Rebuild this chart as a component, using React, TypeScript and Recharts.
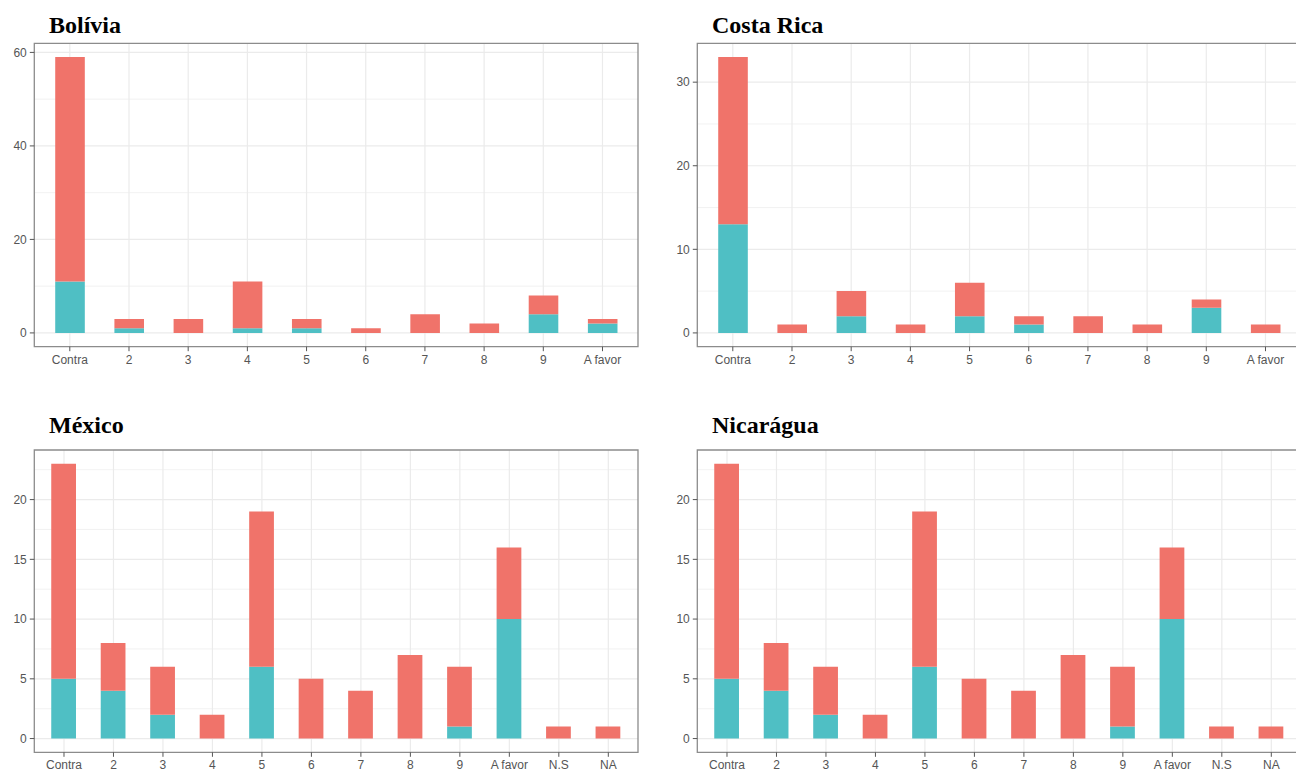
import React from "react";
import { BarChart, Bar, XAxis, YAxis, CartesianGrid, ReferenceArea } from "recharts";

// answer scale (categories)
const scale10 = ["Contra", "2", "3", "4", "5", "6", "7", "8", "9", "A favor"];
const scale12 = ["Contra", "2", "3", "4", "5", "6", "7", "8", "9", "A favor", "N.S", "NA"];

// teal = lower segment, red = upper segment
const boliviaTeal = [11, 1, 0, 1, 1, 0, 0, 0, 4, 2];
const boliviaRed = [48, 2, 3, 10, 2, 1, 4, 2, 4, 1];

const costaRicaTeal = [13, 0, 2, 0, 2, 1, 0, 0, 3, 0];
const costaRicaRed = [20, 1, 3, 1, 4, 1, 2, 1, 1, 1];

const mexicoTeal = [5, 4, 2, 0, 6, 0, 0, 0, 1, 10, 0, 0];
const mexicoRed = [18, 4, 4, 2, 13, 5, 4, 7, 5, 6, 1, 1];

const nicaraguaTeal = [5, 4, 2, 0, 6, 0, 0, 0, 1, 10, 0, 0];
const nicaraguaRed = [18, 4, 4, 2, 13, 5, 4, 7, 5, 6, 1, 1];

// y ticks
const ticks60 = [0, 20, 40, 60];
const minor60 = [10, 30, 50];
const ticks30 = [0, 10, 20, 30];
const minor30 = [5, 15, 25];
const ticks20 = [0, 5, 10, 15, 20];
const minor20 = [2.5, 7.5, 12.5, 17.5, 22.5];

const TEAL = "#4FBFC4";
const RED = "#F0736A";
const SANS = "'Liberation Sans', Arial, sans-serif";

const CHART_W = 640;
const AXIS_W = 34.3;
const MARGIN_R = 2;

type PanelProps = {
  title: string;
  cats: string[];
  teal: number[];
  red: number[];
  ticks: number[];
  minor: number[];
  left: number;
  top: number;
  height: number;
  marginTop: number;
  axisH: number;
};

function Panel({ title, cats, teal, red, ticks, minor, left, top, height, marginTop, axisH }: PanelProps) {
  const data = cats.map((c, i) => ({ pos: i + 1, label: c, teal: teal[i], red: red[i] }));
  const n = cats.length;
  const totals = cats.map((_, i) => teal[i] + red[i]);
  const hi = Math.max(...totals);
  const yLo = -hi * 0.05;
  const yHi = hi * 1.05;
  const xLo = 0.4;
  const xHi = n + 0.6;
  const plotW = CHART_W - AXIS_W - MARGIN_R;
  const barSize = (plotW / (n + 0.2)) * 0.5;
  const positions = data.map((d) => d.pos);

  return (
    <div style={{ position: "absolute", left, top, width: CHART_W, height }}>
      <div
        style={{
          position: "absolute",
          left: 49,
          top: 12.5,
          fontFamily: "'Liberation Serif', 'Times New Roman', serif",
          fontWeight: "bold",
          fontSize: 24,
          lineHeight: "24px",
          color: "#000",
          whiteSpace: "nowrap",
        }}
      >
        {title}
      </div>
      <BarChart
        width={CHART_W}
        height={height}
        data={data}
        margin={{ top: marginTop, right: MARGIN_R, bottom: 0, left: 0 }}
      >
        <CartesianGrid
          vertical={false}
          horizontalValues={minor}
          stroke="#EDEDED"
          strokeWidth={0.7}
        />
        <CartesianGrid
          horizontalValues={ticks}
          verticalValues={positions}
          stroke="#EBEBEB"
          strokeWidth={1.2}
        />
        <XAxis
          type="number"
          dataKey="pos"
          domain={[xLo, xHi]}
          ticks={positions}
          interval={0}
          allowDataOverflow
          height={axisH}
          axisLine={false}
          tickLine={{ stroke: "#555" }}
          tickSize={4.5}
          tickMargin={4}
          tickFormatter={(v: number) => cats[v - 1]}
          tick={{ fill: "#555", fontSize: 12, fontFamily: SANS }}
        />
        <YAxis
          type="number"
          domain={[yLo, yHi]}
          ticks={ticks}
          interval={0}
          allowDataOverflow
          width={AXIS_W}
          axisLine={false}
          tickLine={{ stroke: "#555" }}
          tickSize={4.5}
          tickMargin={3}
          tick={{ fill: "#555", fontSize: 12, fontFamily: SANS }}
        />
        <Bar dataKey="teal" stackId="s" fill={TEAL} barSize={barSize} isAnimationActive={false} />
        <Bar dataKey="red" stackId="s" fill={RED} barSize={barSize} isAnimationActive={false} />
        <ReferenceArea
          x1={xLo}
          x2={xHi}
          y1={yLo}
          y2={yHi}
          fill="none"
          fillOpacity={0}
          stroke="#8C8C8C"
          strokeWidth={1.3}
          ifOverflow="visible"
        />
      </BarChart>
    </div>
  );
}

export default function App() {
  return (
    <div
      style={{
        position: "absolute",
        left: 0,
        top: 0,
        width: 1296,
        height: 776,
        overflow: "hidden",
        background: "#fff",
      }}
    >
      <Panel title="Bolívia" cats={scale10} teal={boliviaTeal} red={boliviaRed} ticks={ticks60} minor={minor60}
        left={0} top={0} height={380} marginTop={43.3} axisH={33.3} />
      <Panel title="Costa Rica" cats={scale10} teal={costaRicaTeal} red={costaRicaRed} ticks={ticks30} minor={minor30}
        left={663} top={0} height={380} marginTop={43.3} axisH={33.3} />
      <Panel title="México" cats={scale12} teal={mexicoTeal} red={mexicoRed} ticks={ticks20} minor={minor20}
        left={0} top={400} height={376} marginTop={50} axisH={23.7} />
      <Panel title="Nicarágua" cats={scale12} teal={nicaraguaTeal} red={nicaraguaRed} ticks={ticks20} minor={minor20}
        left={663} top={400} height={376} marginTop={50} axisH={23.7} />
    </div>
  );
}
